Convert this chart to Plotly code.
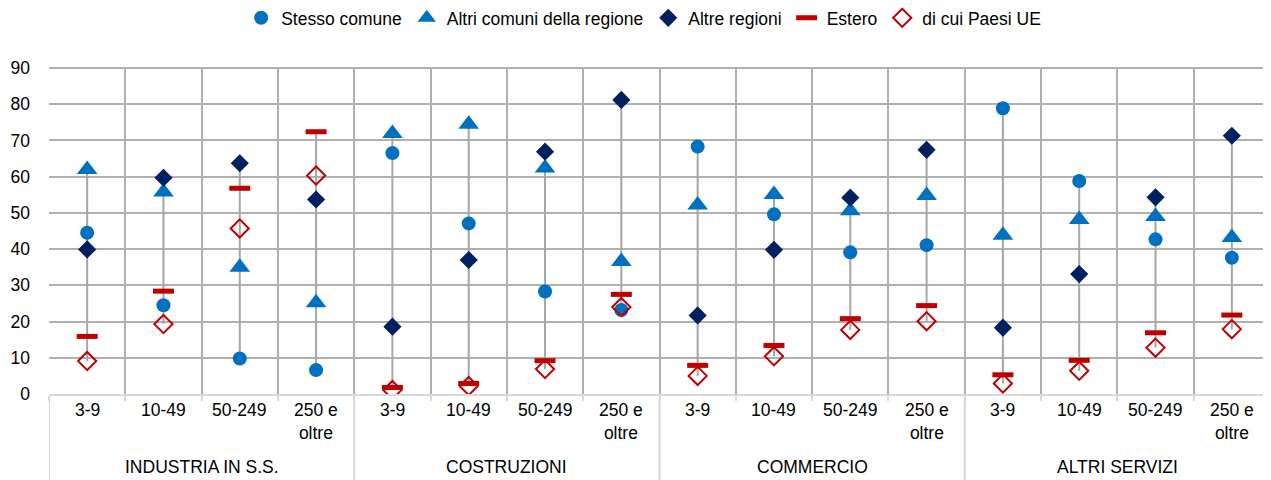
import plotly.graph_objects as go

groups = ["INDUSTRIA IN S.S.", "COSTRUZIONI", "COMMERCIO", "ALTRI SERVIZI"]
sizes = ["3-9", "10-49", "50-249", "250 e<br>oltre"]

stesso_comune = [44.5, 24.5, 9.8, 6.6,
                 66.5, 47.1, 28.3, 23.2,
                 68.3, 49.6, 39.1, 41.1,
                 78.9, 58.8, 42.7, 37.6]
altri_comuni = [62.0, 55.8, 35.0, 25.2,
                71.9, 74.5, 62.4, 36.6,
                52.2, 55.1, 50.6, 54.8,
                43.8, 48.2, 49.0, 43.2]
altre_regioni = [39.9, 59.7, 63.7, 53.7,
                 18.6, 37.0, 66.9, 81.2,
                 21.7, 39.8, 54.2, 67.4,
                 18.3, 33.1, 54.3, 71.3]
estero = [15.9, 28.4, 56.8, 72.4,
          1.8, 2.9, 9.2, 27.5,
          7.9, 13.4, 20.8, 24.4,
          5.3, 9.3, 16.9, 21.8]
paesi_ue = [9.1, 19.3, 45.7, 60.3,
            1.1, 2.2, 6.9, 24.0,
            5.0, 10.4, 17.7, 20.1,
            2.9, 6.4, 12.8, 17.9]

FONT = "Arial Narrow, Liberation Sans, Arial, sans-serif"
FS = 17.5
BLUE = "#0070C0"
NAVY = "#002060"
RED = "#C00000"
GRID = "#b0b0b0"
LIGHT = "#d9d9d9"

n = len(stesso_comune)
xs = list(range(n))

# high-low lines from min to max of each category
series_all = [stesso_comune, altri_comuni, altre_regioni, estero, paesi_ue]
lx, ly = [], []
for i in xs:
    vals = [s[i] for s in series_all]
    lx += [i, i, None]
    ly += [min(vals), max(vals), None]

fig = go.Figure()
fig.add_trace(go.Scatter(x=lx, y=ly, mode="lines", line=dict(color="#a6a6a6", width=2),
                         showlegend=False, hoverinfo="skip"))
fig.add_trace(go.Scatter(x=xs, y=stesso_comune, mode="markers", name="Stesso comune",
                         marker=dict(symbol="circle", size=14, color=BLUE)))
fig.add_trace(go.Scatter(x=xs, y=altri_comuni, mode="markers", name="Altri comuni della regione",
                         marker=dict(symbol="triangle-up", size=18, color=BLUE)))
fig.add_trace(go.Scatter(x=xs, y=altre_regioni, mode="markers", name="Altre regioni",
                         marker=dict(symbol="diamond", size=14, color=NAVY)))
fig.add_trace(go.Scatter(x=xs, y=estero, mode="markers", name="Estero",
                         marker=dict(symbol="line-ew-open", size=15,
                                     line=dict(color=RED, width=5), color=RED)))
fig.add_trace(go.Scatter(x=xs, y=paesi_ue, mode="markers", name="di cui Paesi UE",
                         marker=dict(symbol="diamond-open", size=14, color=RED,
                                     line=dict(color=RED, width=2))))

boundaries = [i - 0.5 for i in range(n + 1)]

annotations = []
for gi, g in enumerate(groups):
    for si, s in enumerate(sizes):
        annotations.append(dict(x=gi * 4 + si, y=0, xref="x", yref="paper", text=s,
                                showarrow=False, yanchor="top", yshift=-4,
                                font=dict(family=FONT, size=FS, color="#000")))
    annotations.append(dict(x=gi * 4 + 1.5, y=0, xref="x", yref="paper", text=g,
                            showarrow=False, yanchor="middle", yshift=-73,
                            font=dict(family=FONT, size=FS, color="#000")))

shapes = []
for gi in range(len(groups)):
    shapes.append(dict(type="line", xref="x", yref="paper", x0=gi * 4 - 0.5, x1=gi * 4 - 0.5,
                       y0=0, y1=-0.3, line=dict(color=LIGHT, width=2)))
# top border of plot area
shapes.append(dict(type="line", xref="paper", yref="paper", x0=0, x1=1, y0=1, y1=1,
                   line=dict(color=GRID, width=2), layer="below"))

# the page body adds an 8px offset; the figure is sized to compensate
fig.update_layout(
    width=1263, height=472,
    margin=dict(l=41, r=1, t=60, b=86, autoexpand=False),
    paper_bgcolor="white", plot_bgcolor="white",
    font=dict(family=FONT, size=FS, color="#000"),
    showlegend=True,
    legend=dict(orientation="h", x=0.487, xanchor="center", yref="container", y=0.979,
                yanchor="middle", font=dict(family=FONT, size=FS, color="#000"),
                itemwidth=30, bgcolor="rgba(0,0,0,0)"),
    xaxis=dict(range=[-0.5, n - 0.5], tickmode="array", tickvals=boundaries,
               showticklabels=False, showgrid=True, gridcolor=GRID, gridwidth=2,
               zeroline=False, ticks="outside", ticklen=5, tickcolor=LIGHT, tickwidth=2,
               showline=True, linecolor=LIGHT, linewidth=2, automargin=False),
    yaxis=dict(range=[0, 90], tickmode="array", tickvals=list(range(0, 91, 10)),
               showgrid=True, gridcolor=GRID, gridwidth=2, zeroline=False,
               ticks="", ticklabelstandoff=18, automargin=False,
               tickfont=dict(family=FONT, size=FS, color="#000")),
    annotations=annotations,
    shapes=shapes,
)

fig.write_html("out.html")
